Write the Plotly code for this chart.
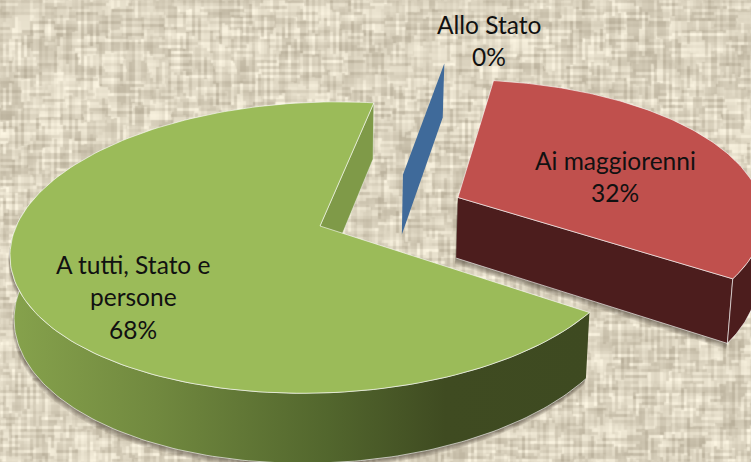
import base64, struct, zlib
import numpy as np
import plotly.graph_objects as go

# ---- data ----
labels = ["Ai maggiorenni", "Allo Stato", "A tutti, Stato e<br>persone"]
values = [32, 0, 68]
slice_colors = ["#C0504D", "#3F6A9A", "#9BBB59"]

# ---- view of the tilted pie (pixels of a 751x462 canvas) ----
W, H = 751, 462
CX, CY = 320.0, 226.0
A, B, P = 306.6, 142.3, -0.148
SHEAR = -0.026
DEPTH = 62.0
BOTTOM_XS, BOTTOM_YS = 0.987, 1.048
START_DEG = 11.6
EXPLODE = {0: (0.462, -0.18), 1: (0.285, -0.3626), 2: (0.0, 0.0)}


def project(u, v, bottom=False):
    u, v = np.asarray(u, float), np.asarray(v, float)
    d = 1 + P * v
    X, Y = A * u / d, B * v / d
    Y = Y + SHEAR * X
    if bottom:
        return CX + X * BOTTOM_XS, CY + DEPTH + Y * BOTTOM_YS
    return CX + X, CY + Y


def rim(a0, a1, off=(0, 0), bottom=False, n=160):
    t = np.radians(np.linspace(a0, a1, n))
    return project(np.sin(t) + off[0], -np.cos(t) + off[1], bottom)


def poly(x, y, color=None, line=None, lw=0.8, grad=None):
    kw = dict(x=np.asarray(x), y=np.asarray(y), mode="lines", fill="toself",
              hoverinfo="skip", showlegend=False)
    kw["line"] = dict(color=line or "rgba(0,0,0,0)", width=lw if line else 0)
    if grad:
        kw["fillgradient"] = grad
    else:
        kw["fillcolor"] = color
    return go.Scatter(**kw)


def texture():
    Yg, Xg = np.mgrid[0:H, 0:W].astype(float)

    def h(a, b):
        s = np.sin(a * 12.9898 + b * 78.233) * 43758.5453
        return s - np.floor(s)

    c = np.floor(Xg / 3)
    r = np.floor((Yg + 60 * h(c, 1.0)) / 22)
    vert = h(c, r)
    r2 = np.floor(Yg / 3)
    c2 = np.floor((Xg + 60 * h(r2, 2.0)) / 22)
    hori = h(c2 + 50, r2)
    v = (vert + hori) / 2 - 0.5
    v = (v * 2 + np.roll(v, 1, 0) + np.roll(v, -1, 0) + np.roll(v, 1, 1) + np.roll(v, -1, 1)) / 6
    base = np.array([220.0, 212.0, 192.0])
    img = np.clip(base[None, None, :] + v[..., None] * np.array([70.0, 73.0, 75.0]), 0, 255).astype(np.uint8)
    raw = b"".join(b"\x00" + img[i].tobytes() for i in range(H))

    def chunk(t, d):
        return struct.pack(">I", len(d)) + t + d + struct.pack(">I", zlib.crc32(t + d) & 0xffffffff)

    png = (b"\x89PNG\r\n\x1a\n" + chunk(b"IHDR", struct.pack(">IIBBBBB", W, H, 8, 2, 0, 0, 0))
           + chunk(b"IDAT", zlib.compress(raw, 9)) + chunk(b"IEND", b""))
    return "data:image/png;base64," + base64.b64encode(png).decode()


# slice angles come from the values
total = sum(values)
red0 = START_DEG
red1 = red0 + 360 * values[0] / total
blue_a = red0
green0, green1 = red1, START_DEG + 360
EDGE = "rgba(255,255,255,0.75)"
traces = []

# green: wall and shadow
gx0, gy0 = rim(green0, 288)
gx1, gy1 = rim(green0, 288, bottom=True)
wall_x = np.r_[gx0, gx1[::-1]]
wall_y = np.r_[gy0, gy1[::-1]]
for s in [6, 5, 4, 3, 2, 1]:
    traces.append(poly(wall_x - s * 0.3, wall_y + s, "rgba(50,42,28,0.10)"))

# green: cut face at its start spoke
a = np.radians(START_DEG)
fx0, fy0 = project([0, np.sin(a)], [0, -np.cos(a)])
fx1, fy1 = project([np.sin(a), 0], [-np.cos(a), 0], bottom=True)
traces.append(poly(np.r_[fx0, fx1], np.r_[fy0, fy1], "#7F9A48", EDGE, 0.6))

traces.append(poly(wall_x, wall_y, line=EDGE, grad=dict(
    type="horizontal", start=10, stop=590,
    colorscale=[[0, "#86A24C"], [0.25, "#71893F"], [0.55, "#52662D"], [0.75, "#3F4B21"], [1, "#3E4A21"]])))

tx, ty = rim(green0, green1)
ax, ay = project(0, 0)
traces.append(poly(np.r_[ax, tx, ax], np.r_[ay, ty, ay], slice_colors[2], EDGE))

# blue: the empty slice is only its cut face
o = EXPLODE[1]
b0x, b0y = project([o[0], o[0] + np.sin(np.radians(blue_a))], [o[1], o[1] - np.cos(np.radians(blue_a))])
b1x, b1y = project([o[0] + np.sin(np.radians(blue_a)), o[0]], [o[1] - np.cos(np.radians(blue_a)), o[1]], bottom=True)
traces.append(poly(np.r_[b0x, b1x], np.r_[b0y, b1y], slice_colors[1]))

# red: exploded slice
o = EXPLODE[0]
e = np.radians(red1)
rax, ray = project(o[0], o[1])
rbx, rby = project(o[0], o[1], bottom=True)
rex, rey = project(o[0] + np.sin(e), o[1] - np.cos(e))
rfx, rfy = project(o[0] + np.sin(e), o[1] - np.cos(e), bottom=True)
shx = np.array([rax, rex, rfx, rbx])
shy = np.array([ray, rey, rfy, rby])
for s in [6, 5, 4, 3, 2, 1]:
    traces.append(poly(shx - s * 0.2, shy + s, "rgba(50,42,28,0.10)"))
traces.append(poly(shx, shy, "#4C1D1D", EDGE))
ox0, oy0 = rim(red1 - 50, red1, o)
ox1, oy1 = rim(red1 - 50, red1, o, bottom=True)
traces.append(poly(np.r_[ox0, ox1[::-1]], np.r_[oy0, oy1[::-1]], "#4C1D1D", EDGE))
rx, ry = rim(red0, red1, o)
traces.append(poly(np.r_[rax, rx, rax], np.r_[ray, ry, ray], slice_colors[0], EDGE))

fig = go.Figure(traces)

# text: one annotation per line, to hold the chart's line spacing
placements = [(615, 160), (489, 24), (133, 264)]
annotations = []
for lab, val, (x, y) in zip(labels, values, placements):
    lines = lab.split("<br>") + [f"{round(100 * val / total)}%"]
    for i, line in enumerate(lines):
        annotations.append(dict(x=x, y=y + 32.7 * i, text=line, showarrow=False, xref="x", yref="y",
                                font=dict(family="Lato, sans-serif", size=24.5, color="#111111")))

fig.update_layout(
    width=W, height=H, margin=dict(l=0, r=0, t=0, b=0), showlegend=False,
    paper_bgcolor="#DED6C2", plot_bgcolor="rgba(0,0,0,0)",
    xaxis=dict(range=[0, W], visible=False, fixedrange=True),
    yaxis=dict(range=[H, 0], visible=False, fixedrange=True),
    annotations=annotations,
    images=[dict(source=texture(), xref="paper", yref="paper", x=0, y=1, sizex=1, sizey=1,
                 xanchor="left", yanchor="top", sizing="stretch", layer="below")],
)
fig.write_html("out.html", config=dict(displayModeBar=False),
               post_script="document.body.style.margin='0';document.documentElement.style.overflow='hidden';")
